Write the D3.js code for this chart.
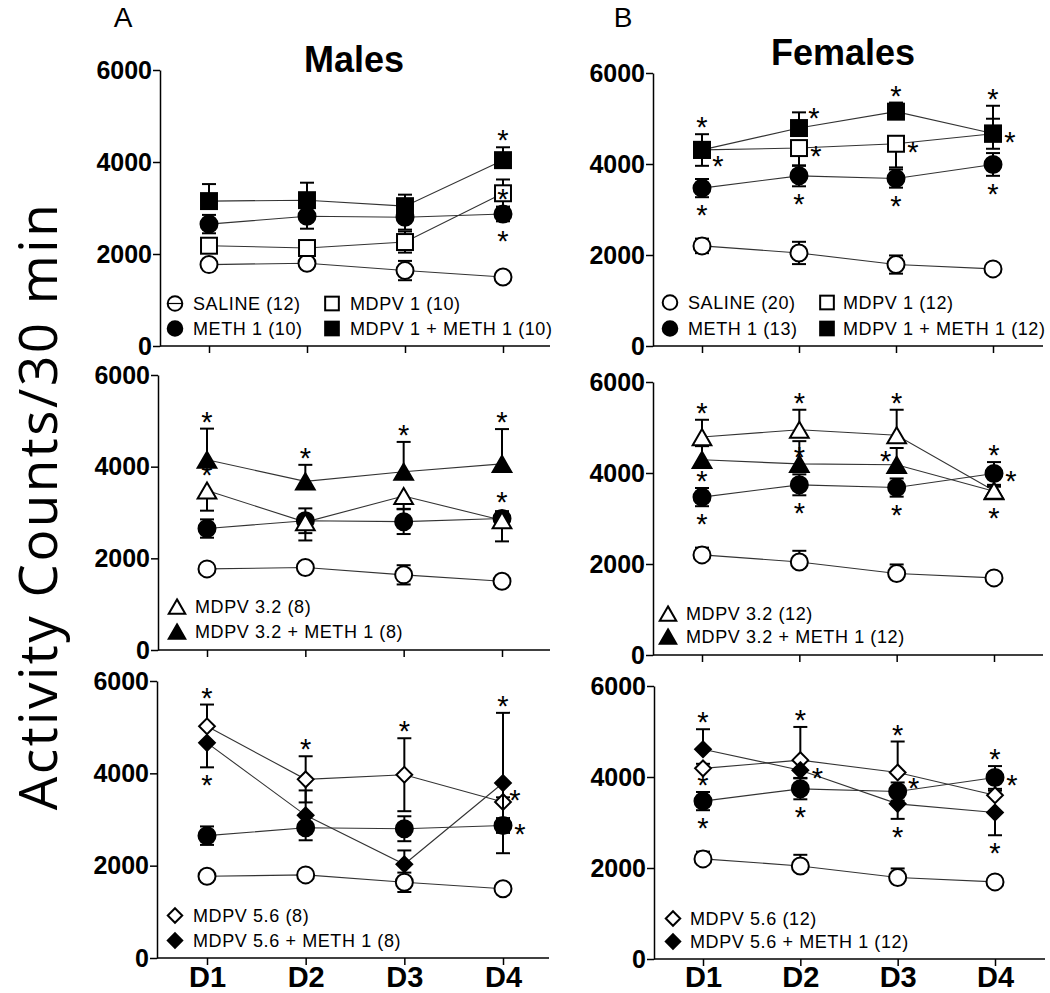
<!DOCTYPE html>
<html><head><meta charset="utf-8">
<script src="https://cdn.jsdelivr.net/npm/d3@7"></script>
<style>body{margin:0;background:#fff}svg{display:block}</style>
</head><body><svg id="c" width="1050" height="993"></svg>
<script>
// ---------------- data ----------------
const days = ["D1", "D2", "D3", "D4"];
const yTicks = [0, 2000, 4000, 6000];

// Males (A)
const mSaline = [1770, 1800, 1640, 1500];
const mSalineSem = [60, 60, 210, 40];
const mMeth = [2650, 2820, 2800, 2870];
const mMethSem = [200, 270, 270, 160];
const mMdpv1 = [2180, 2130, 2260, 3320];
const mMdpv1Sem = [150, 150, 230, 300];
const mMdpv1Meth = [3150, 3170, 3040, 4040];
const mMdpv1MethSem = [370, 380, 250, 280];
const mMdpv32 = [3480, 2790, 3360, 2830];
const mMdpv32Sem = [440, 400, 280, 460];
const mMdpv32Meth = [4150, 3680, 3890, 4060];
const mMdpv32MethSem = [680, 360, 650, 760];
const mMdpv56 = [5020, 3870, 3970, 3380];
const mMdpv56Sem = [470, 500, 790, 100];
const mMdpv56Meth = [4660, 3090, 2030, 3790];
const mMdpv56MethSem = [530, 540, 300, 1520];

// Females (B)
const fSaline = [2200, 2045, 1790, 1695];
const fSalineSem = [160, 245, 200, 40];
const fMeth = [3470, 3740, 3680, 3990];
const fMethSem = [200, 230, 200, 250];
const fMdpv1 = [4310, 4350, 4445, 4665];
const fMdpv1Sem = [350, 390, 520, 330];
const fMdpv1Meth = [4310, 4790, 5150, 4670];
const fMdpv1MethSem = [345, 345, 200, 610];
const fMdpv32 = [4790, 4950, 4830, 3610];
const fMdpv32Sem = [380, 440, 560, 100];
const fMdpv32Meth = [4290, 4200, 4180, 3600];
const fMdpv32MethSem = [300, 500, 370, 100];
const fMdpv56 = [4190, 4370, 4100, 3600];
const fMdpv56Sem = [100, 730, 680, 100];
const fMdpv56Meth = [4610, 4150, 3410, 3220];
const fMdpv56MethSem = [440, 170, 330, 500];

// group sizes
const mN = {saline: 12, meth: 10, mdpv1: 10, mdpv1meth: 10, mdpv32: 8, mdpv32meth: 8, mdpv56: 8, mdpv56meth: 8};
const fN = {saline: 20, meth: 13, mdpv1: 12, mdpv1meth: 12, mdpv32: 12, mdpv32meth: 12, mdpv56: 12, mdpv56meth: 12};

// significance marks: [series, day index, placement]
const starsA1 = [["mdpv1meth", 3, "up"], ["mdpv1", 3, "center"], ["meth", 3, "down"]];
const starsA2 = [["mdpv32meth", 0, "up"], ["mdpv32meth", 1, "up"], ["mdpv32meth", 2, "up"], ["mdpv32meth", 3, "up"],
                 ["mdpv32", 0, "up"], ["mdpv32", 2, "up"], ["meth", 3, "up"]];
const starsA3 = [["mdpv56", 0, "up"], ["mdpv56meth", 0, "down"], ["mdpv56", 1, "up"], ["mdpv56", 2, "up"],
                 ["mdpv56meth", 3, "up"], ["mdpv56", 3, "rightup"], ["meth", 3, "right"]];
const starsB1 = [["mdpv1meth", 0, "up"], ["mdpv1", 0, "rightdown"], ["meth", 0, "down"],
                 ["mdpv1meth", 1, "rightbar"], ["mdpv1", 1, "right"], ["meth", 1, "down"],
                 ["mdpv1meth", 2, "up"], ["mdpv1", 2, "right"], ["meth", 2, "down"],
                 ["mdpv1meth", 3, "up"], ["mdpv1meth", 3, "right"], ["meth", 3, "down"]];
const starsB2 = [["mdpv32", 0, "up"], ["meth", 0, "up"], ["meth", 0, "down"],
                 ["mdpv32", 1, "up"], ["mdpv32meth", 1, "mk"], ["meth", 1, "down"],
                 ["mdpv32", 2, "up"], ["mdpv32meth", 2, "leftup"], ["meth", 2, "down"],
                 ["meth", 3, "up"], ["meth", 3, "right"], ["mdpv32", 3, "down"]];
const starsB3 = [["mdpv56meth", 0, "up"], ["meth", 0, "up"], ["meth", 0, "down"],
                 ["mdpv56", 1, "up"], ["mdpv56meth", 1, "right"], ["meth", 1, "down"],
                 ["mdpv56", 2, "up"], ["mdpv56", 2, "rightdown"], ["mdpv56meth", 2, "down"],
                 ["meth", 3, "up"], ["meth", 3, "right"], ["mdpv56meth", 3, "down"]];

// ---------------- series builders ----------------
function ser(key, name, n, vals, sem, bars, shape, filled) {
  return {key, label: `${name} (${n})`, vals, sem, bars, shape, filled};
}
const M = {
  saline: b => ser("saline", "SALINE", mN.saline, mSaline, mSalineSem, b, "circle", false),
  meth: ser("meth", "METH 1", mN.meth, mMeth, mMethSem, "bbbb", "circle", true),
  mdpv1: ser("mdpv1", "MDPV 1", mN.mdpv1, mMdpv1, mMdpv1Sem, "bbbb", "square", false),
  mdpv1meth: ser("mdpv1meth", "MDPV 1 + METH 1", mN.mdpv1meth, mMdpv1Meth, mMdpv1MethSem, "uuuu", "square", true),
  mdpv32: ser("mdpv32", "MDPV 3.2", mN.mdpv32, mMdpv32, mMdpv32Sem, "dddd", "triangle", false),
  mdpv32meth: ser("mdpv32meth", "MDPV 3.2 + METH 1", mN.mdpv32meth, mMdpv32Meth, mMdpv32MethSem, "uuuu", "triangle", true),
  mdpv56: ser("mdpv56", "MDPV 5.6", mN.mdpv56, mMdpv56, mMdpv56Sem, "ubbu", "diamond", false),
  mdpv56meth: ser("mdpv56meth", "MDPV 5.6 + METH 1", mN.mdpv56meth, mMdpv56Meth, mMdpv56MethSem, "duub", "diamond", true)
};
const F = {
  saline: b => ser("saline", "SALINE", fN.saline, fSaline, fSalineSem, b, "circle", false),
  meth: ser("meth", "METH 1", fN.meth, fMeth, fMethSem, "bbbb", "circle", true),
  mdpv1: ser("mdpv1", "MDPV 1", fN.mdpv1, fMdpv1, fMdpv1Sem, "dddb", "square", false),
  mdpv1meth: ser("mdpv1meth", "MDPV 1 + METH 1", fN.mdpv1meth, fMdpv1Meth, fMdpv1MethSem, "uuuu", "square", true),
  mdpv32: ser("mdpv32", "MDPV 3.2", fN.mdpv32, fMdpv32, fMdpv32Sem, "uuuu", "triangle", false),
  mdpv32meth: ser("mdpv32meth", "MDPV 3.2 + METH 1", fN.mdpv32meth, fMdpv32Meth, fMdpv32MethSem, "uuuu", "triangle", true),
  mdpv56: ser("mdpv56", "MDPV 5.6", fN.mdpv56, fMdpv56, fMdpv56Sem, "uuuu", "diamond", false),
  mdpv56meth: ser("mdpv56meth", "MDPV 5.6 + METH 1", fN.mdpv56meth, fMdpv56Meth, fMdpv56MethSem, "uddd", "diamond", true)
};

// ---------------- panels (layout) ----------------
const panels = [
  {ax: 160, y0: 346, y6: 70, x1: 209, x4: 503, xe: 550, xlab: false,
   series: [M.saline("bbbb"), M.meth, M.mdpv1, M.mdpv1meth], stars: starsA1,
   legend: {cols: [[175, 193], [332, 350]], rows: [310, 335], grid: [["saline", "mdpv1"], ["meth", "mdpv1meth"]], salineLine: true}},
  {ax: 653, y0: 346, y6: 73, x1: 702, x4: 993, xe: 1043, xlab: false,
   series: [F.saline("bbbb"), F.meth, F.mdpv1, F.mdpv1meth], stars: starsB1,
   legend: {cols: [[670, 688], [827, 843]], rows: [309, 335], grid: [["saline", "mdpv1"], ["meth", "mdpv1meth"]]}},
  {ax: 158, y0: 650, y6: 375, x1: 207, x4: 502, xe: 550, xlab: false,
   series: [M.saline("bbbb"), M.meth, M.mdpv32, M.mdpv32meth], stars: starsA2,
   legend: {cols: [[177, 195]], rows: [613, 638], grid: [["mdpv32"], ["mdpv32meth"]]}},
  {ax: 653, y0: 655, y6: 382, x1: 702, x4: 994, xe: 1043, xlab: false,
   series: [F.saline("uuuu"), F.meth, F.mdpv32meth, F.mdpv32], stars: starsB2,
   legend: {cols: [[668, 686]], rows: [620, 643], grid: [["mdpv32"], ["mdpv32meth"]]}},
  {ax: 157, y0: 958, y6: 681, x1: 207, x4: 503, xe: 549, xlab: true,
   series: [M.saline("bbbb"), M.meth, M.mdpv56, M.mdpv56meth], stars: starsA3,
   legend: {cols: [[175, 193]], rows: [922, 947], grid: [["mdpv56"], ["mdpv56meth"]]}},
  {ax: 654, y0: 959, y6: 686, x1: 703, x4: 995, xe: 1045, xlab: true,
   series: [F.saline("uuuu"), F.meth, F.mdpv56, F.mdpv56meth], stars: starsB3,
   legend: {cols: [[673, 690]], rows: [925, 948], grid: [["mdpv56"], ["mdpv56meth"]]}}
];

// ---------------- drawing ----------------
const svg = d3.select("#c");
const FONT = "'Liberation Sans', Arial, Helvetica, sans-serif";

function marker(g, shape, cx, cy, s, filled) {
  const fill = filled ? "#000" : "#fff";
  const common = sel => sel.attr("fill", fill).attr("stroke", "#000").attr("stroke-width", 2);
  if (shape === "circle") {
    common(g.append("circle").attr("cx", cx).attr("cy", cy).attr("r", s));
  } else if (shape === "square") {
    const h = s * 0.95;
    common(g.append("rect").attr("x", cx - h).attr("y", cy - h).attr("width", 2 * h).attr("height", 2 * h));
  } else if (shape === "triangle") {
    const w = s * 2.2, hh = s * 1.9;
    common(g.append("path").attr("d", `M${cx},${cy - hh / 2}L${cx + w / 2},${cy + hh / 2}L${cx - w / 2},${cy + hh / 2}Z`).attr("stroke-linejoin", "miter"));
  } else if (shape === "diamond") {
    const h = s * 0.95;
    common(g.append("path").attr("d", `M${cx},${cy - h}L${cx + h},${cy}L${cx},${cy + h}L${cx - h},${cy}Z`));
  }
}

panels.forEach(P => {
  const g = svg.append("g");
  const x = d3.scalePoint().domain(days).range([P.x1, P.x4]);
  const y = d3.scaleLinear().domain([0, 6000]).range([P.y0, P.y6]);

  // y axis
  const ya = g.append("g").attr("transform", `translate(${P.ax},0)`)
    .call(d3.axisLeft(y).tickValues(yTicks).tickSize(7).tickSizeOuter(0).tickPadding(1).tickFormat(d3.format("d")));
  ya.select(".domain").attr("stroke", "#000").attr("stroke-width", 1.5);
  ya.selectAll(".tick line").attr("stroke", "#000").attr("stroke-width", 1.5);
  ya.selectAll(".tick text").attr("font-family", FONT).attr("font-weight", "bold").attr("font-size", 25).attr("fill", "#000");

  // x axis
  g.append("line").attr("x1", P.ax).attr("x2", P.xe).attr("y1", P.y0).attr("y2", P.y0)
    .attr("stroke", "#000").attr("stroke-width", 1.5);
  const xa = g.append("g").attr("transform", `translate(0,${P.y0})`)
    .call(d3.axisBottom(x).tickSize(7).tickSizeOuter(0).tickPadding(6).tickFormat(P.xlab ? (d => d) : () => ""));
  xa.select(".domain").remove();
  xa.selectAll(".tick line").attr("stroke", "#000").attr("stroke-width", 1.5);
  xa.selectAll(".tick text").attr("font-family", FONT).attr("font-weight", "bold").attr("font-size", 29)
    .attr("fill", "#000").attr("y", 993 - 6 - P.y0).attr("dy", 0);

  const byKey = {};
  P.series.forEach(s => byKey[s.key] = s);

  // connecting lines
  const line = d3.line().x((d, i) => x(days[i])).y(d => y(d));
  P.series.forEach(s => {
    g.append("path").attr("d", line(s.vals)).attr("fill", "none").attr("stroke", "#333").attr("stroke-width", 1.1);
  });

  // error bars + markers
  const cap = 7;
  P.series.forEach(s => {
    const eg = g.append("g").attr("stroke", "#000").attr("stroke-width", 2);
    s.vals.forEach((v, i) => {
      const cx = x(days[i]);
      const b = s.bars[i];
      const ends = [];
      if (b === "u" || b === "b") ends.push(v + s.sem[i]);
      if (b === "d" || b === "b") ends.push(v - s.sem[i]);
      ends.forEach(e => {
        eg.append("line").attr("x1", cx).attr("x2", cx).attr("y1", y(v)).attr("y2", y(e));
        eg.append("line").attr("x1", cx - cap).attr("x2", cx + cap).attr("y1", y(e)).attr("y2", y(e));
      });
    });
    const mg = g.append("g");
    const size = {circle: 8.5, square: 8.4, triangle: 8.5, diamond: 8.3}[s.shape];
    s.vals.forEach((v, i) => marker(mg, s.shape, x(days[i]), y(v), size, s.filled));
  });

  // significance asterisks
  const sg = g.append("g");
  P.stars.forEach(([k, i, pos]) => {
    const s = byKey[k];
    const v = s.vals[i], cx = x(days[i]), cy = y(v), b = s.bars[i];
    const topV = (b === "u" || b === "b") ? y(v + s.sem[i]) : cy;
    const botV = (b === "d" || b === "b") ? y(v - s.sem[i]) : cy;
    const top = Math.min(topV, cy - 9), bot = Math.max(botV, cy + 9);
    let px = cx, py = cy;
    if (pos === "up") { py = top - 13; }
    else if (pos === "down") { py = bot + 12; }
    else if (pos === "right") { px = cx + 17; py = cy + 2; }
    else if (pos === "rightdown") { px = cx + 16; py = cy + 10; }
    else if (pos === "rightup") { px = cx + 12; py = cy - 8; }
    else if (pos === "rightbar") { px = cx + 15; py = top; }
    else if (pos === "mk") { px = cx; py = cy - 13; }
    else if (pos === "leftup") { px = cx - 11; py = cy - 10; }
    sg.append("text").attr("x", px).attr("y", py + 16).attr("text-anchor", "middle")
      .attr("font-family", FONT).attr("font-size", 29).attr("fill", "#000").text("*");
  });

  // legend
  const L = P.legend;
  const lg = g.append("g");
  L.grid.forEach((row, ri) => {
    row.forEach((k, ci) => {
      const s = byKey[k];
      const [sx, tx] = L.cols[ci];
      const by = L.rows[ri];
      const cy = by - 6.5;
      const size = {circle: 7.3, square: 7.2, triangle: 7.5, diamond: 7.6}[s.shape];
      if (L.salineLine && k === "saline") {
        lg.append("line").attr("x1", sx - 8).attr("x2", sx + 8).attr("y1", cy).attr("y2", cy).attr("stroke", "#000").attr("stroke-width", 1.2);
        lg.append("circle").attr("cx", sx).attr("cy", cy).attr("r", size).attr("fill", "none").attr("stroke", "#000").attr("stroke-width", 2);
      } else {
        marker(lg, s.shape, sx, cy, size, s.filled);
      }
      lg.append("text").attr("x", tx).attr("y", by).attr("font-family", FONT).attr("font-size", 18)
        .attr("letter-spacing", 0.6).attr("fill", "#000").text(s.label);
    });
  });
});

// titles and labels
svg.append("text").attr("x", 123).attr("y", 27).attr("text-anchor", "middle").attr("font-family", FONT)
  .attr("font-size", 28).text("A");
svg.append("text").attr("x", 623).attr("y", 27).attr("text-anchor", "middle").attr("font-family", FONT)
  .attr("font-size", 28).text("B");
svg.append("text").attr("x", 354).attr("y", 72).attr("text-anchor", "middle").attr("font-family", FONT)
  .attr("font-weight", "bold").attr("font-size", 36).text("Males");
svg.append("text").attr("x", 843).attr("y", 65).attr("text-anchor", "middle").attr("font-family", FONT)
  .attr("font-weight", "bold").attr("font-size", 36).text("Females");
svg.append("text").attr("transform", "translate(57,506) rotate(-90)").attr("text-anchor", "middle")
  .attr("font-family", "'Open Sans', 'Noto Sans', sans-serif").attr("font-size", 53)
  .attr("letter-spacing", 2.5).attr("fill", "#000")
  .text("Activity Counts/30 min");
</script>
</body></html>
